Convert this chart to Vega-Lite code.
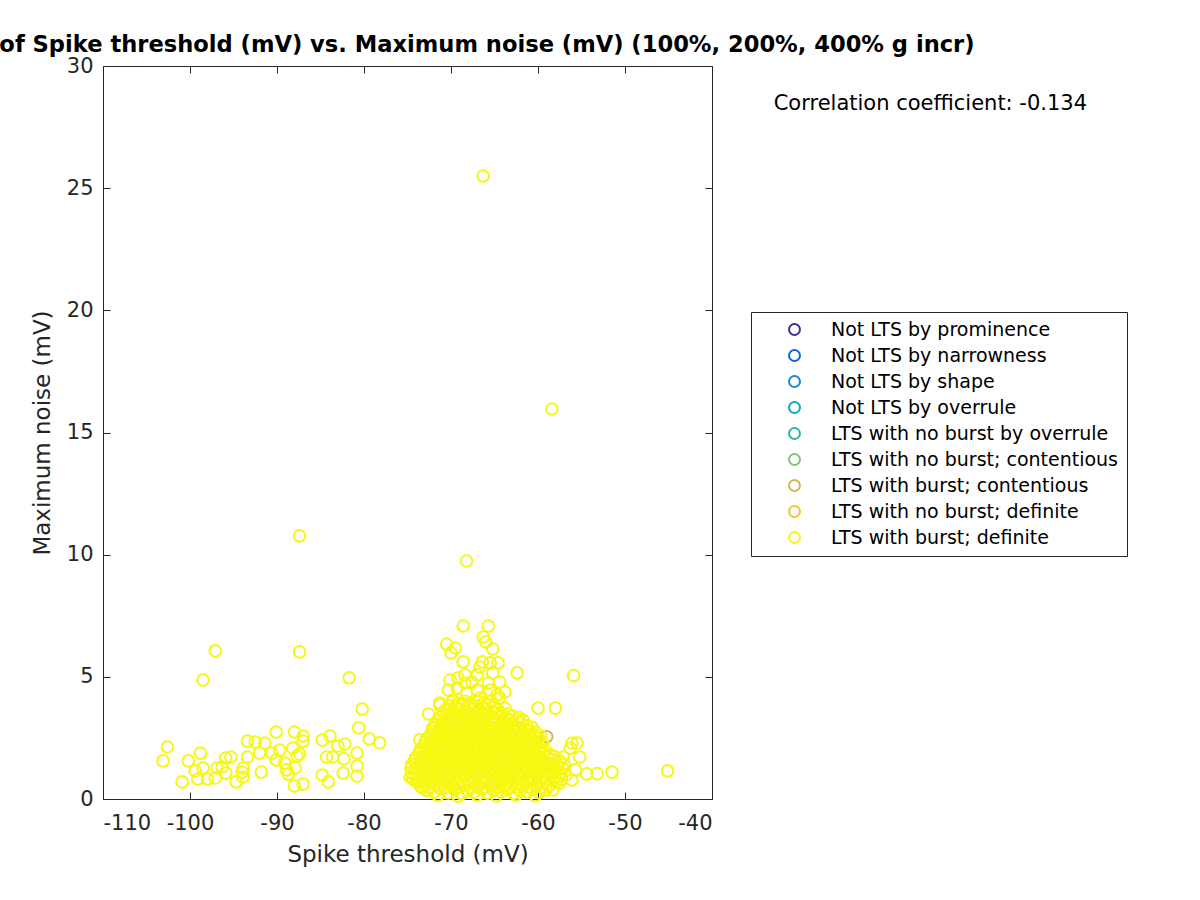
{
  "$schema": "https://vega.github.io/schema/vega-lite/v6.json",
  "width": 609,
  "height": 733,
  "autosize": "none",
  "padding": {"left": 103, "top": 66, "right": 488, "bottom": 101},
  "background": "white",
  "config": {
    "view": {"stroke": "#262626", "strokeWidth": 1},
    "font": "DejaVu Sans",
    "axis": {"grid": false, "domain": false, "tickColor": "#262626", "tickSize": -7, "tickWidth": 1, "labelColor": "#262626", "titleColor": "#262626", "labelFont": "DejaVu Sans", "titleFont": "DejaVu Sans", "labelFontSize": 21, "titleFontSize": 23, "titleFontWeight": "normal"}
  },
  "title": {"text": "Scatter plot of Spike threshold (mV) vs. Maximum noise (mV) (100%, 200%, 400% g incr)", "anchor": "middle", "fontSize": 22.6, "fontWeight": "bold", "font": "DejaVu Sans", "color": "#000000", "offset": -2},
  "datasets": {
    "contentious": [{"x": -59.0, "y": 2.55}],
    "definite": [
      {"x": -66.3, "y": 25.5}, {"x": -58.4, "y": 15.96}, {"x": -87.4, "y": 10.77}, {"x": -68.2, "y": 9.74},
      {"x": -97.1, "y": 6.06}, {"x": -87.4, "y": 6.02}, {"x": -98.5, "y": 4.87}, {"x": -81.7, "y": 4.96}, {"x": -55.9, "y": 5.05},
      {"x": -45.1, "y": 1.15}, {"x": -51.5, "y": 1.1}, {"x": -53.2, "y": 1.04}, {"x": -54.4, "y": 1.03},
      {"x": -80.2, "y": 3.68}, {"x": -80.6, "y": 2.91}, {"x": -79.4, "y": 2.46}, {"x": -78.2, "y": 2.3},
      {"x": -102.6, "y": 2.13}, {"x": -103.1, "y": 1.56}, {"x": -100.2, "y": 1.56}, {"x": -98.8, "y": 1.88},
      {"x": -100.9, "y": 0.7}, {"x": -99.4, "y": 1.15}, {"x": -98.5, "y": 1.27}, {"x": -99.1, "y": 0.82},
      {"x": -98.0, "y": 0.82}, {"x": -97.1, "y": 0.86}, {"x": -96.9, "y": 1.27}, {"x": -96.3, "y": 1.31},
      {"x": -95.9, "y": 1.68}, {"x": -95.3, "y": 1.72}, {"x": -94.7, "y": 0.7}, {"x": -95.9, "y": 1.06},
      {"x": -94.0, "y": 1.1}, {"x": -93.9, "y": 1.27}, {"x": -93.9, "y": 0.9}, {"x": -93.4, "y": 1.72},
      {"x": -93.4, "y": 2.37}, {"x": -92.5, "y": 2.33}, {"x": -91.4, "y": 2.29}, {"x": -91.8, "y": 1.1},
      {"x": -92.0, "y": 1.88}, {"x": -90.6, "y": 1.88}, {"x": -90.1, "y": 2.74}, {"x": -90.1, "y": 1.6},
      {"x": -89.7, "y": 2.0}, {"x": -89.1, "y": 1.47}, {"x": -88.9, "y": 1.19}, {"x": -88.7, "y": 1.02},
      {"x": -88.0, "y": 2.74}, {"x": -88.2, "y": 2.08}, {"x": -87.7, "y": 1.76}, {"x": -87.4, "y": 1.84},
      {"x": -87.0, "y": 2.58}, {"x": -87.0, "y": 2.37}, {"x": -87.9, "y": 1.27}, {"x": -88.0, "y": 0.53},
      {"x": -87.0, "y": 0.61}, {"x": -84.8, "y": 2.41}, {"x": -83.9, "y": 2.58}, {"x": -84.3, "y": 1.72},
      {"x": -83.6, "y": 1.72}, {"x": -83.0, "y": 2.17}, {"x": -82.2, "y": 2.25}, {"x": -82.3, "y": 1.64},
      {"x": -84.8, "y": 0.98}, {"x": -84.1, "y": 0.7}, {"x": -82.4, "y": 1.06}, {"x": -80.8, "y": 1.88},
      {"x": -80.8, "y": 1.35}, {"x": -80.8, "y": 0.94},
      {"x": -68.6, "y": 7.08}, {"x": -65.7, "y": 7.08}, {"x": -70.5, "y": 6.34}, {"x": -69.5, "y": 6.18},
      {"x": -70.0, "y": 5.98}, {"x": -66.3, "y": 6.63}, {"x": -66.0, "y": 6.43}, {"x": -65.2, "y": 6.14},
      {"x": -68.6, "y": 5.61}, {"x": -66.4, "y": 5.61}, {"x": -66.7, "y": 5.4}, {"x": -64.6, "y": 5.57},
      {"x": -65.5, "y": 5.57}, {"x": -62.4, "y": 5.16}, {"x": -68.4, "y": 5.08}, {"x": -67.0, "y": 5.08},
      {"x": -65.2, "y": 5.16}, {"x": -70.1, "y": 4.87}, {"x": -69.2, "y": 4.95}, {"x": -65.7, "y": 4.75},
      {"x": -64.4, "y": 4.79}, {"x": -68.4, "y": 4.75}, {"x": -67.6, "y": 4.79}, {"x": -63.8, "y": 4.38},
      {"x": -70.3, "y": 4.46}, {"x": -69.3, "y": 4.54}, {"x": -68.2, "y": 4.34}, {"x": -67.0, "y": 4.46},
      {"x": -65.5, "y": 4.46}, {"x": -64.7, "y": 4.26}, {"x": -71.3, "y": 3.93}, {"x": -69.8, "y": 4.05},
      {"x": -66.7, "y": 4.13}, {"x": -64.4, "y": 4.13}, {"x": -60.0, "y": 3.72}, {"x": -58.0, "y": 3.72},
      {"x": -56.1, "y": 2.29}, {"x": -55.5, "y": 2.29}, {"x": -56.3, "y": 2.08}, {"x": -55.2, "y": 1.72},
      {"x": -57.1, "y": 1.72}, {"x": -55.7, "y": 1.19}, {"x": -56.1, "y": 0.78}, {"x": -57.5, "y": 0.65},
      {"x": -58.3, "y": 0.37}, {"x": -72.6, "y": 3.48}, {"x": -71.3, "y": 3.85}, {"x": -72.1, "y": 2.91},
      {"x": -73.6, "y": 2.42}, {"x": -74.1, "y": 1.68}, {"x": -74.5, "y": 1.1}, {"x": -74.7, "y": 0.9},
      {"x": -73.8, "y": 0.7}, {"x": -73.2, "y": 0.45},
      {"x": -71.5, "y": 0.15}, {"x": -69.2, "y": 0.12}, {"x": -67.0, "y": 0.16}, {"x": -64.8, "y": 0.13}, {"x": -62.5, "y": 0.17}, {"x": -60.3, "y": 0.14},
      {"x": -72.8, "y": 0.35}, {"x": -71.9, "y": 0.28}, {"x": -71.2, "y": 0.42}, {"x": -70.3, "y": 0.25}, {"x": -69.6, "y": 0.38}, {"x": -68.8, "y": 0.22}, {"x": -68.1, "y": 0.33}, {"x": -67.3, "y": 0.27}, {"x": -66.5, "y": 0.4}, {"x": -65.8, "y": 0.24}, {"x": -65.1, "y": 0.36}, {"x": -64.2, "y": 0.29}, {"x": -63.5, "y": 0.41}, {"x": -62.8, "y": 0.23}, {"x": -62.1, "y": 0.34}, {"x": -61.3, "y": 0.3}, {"x": -60.6, "y": 0.39}, {"x": -59.9, "y": 0.26}, {"x": -59.1, "y": 0.37},
      {"x": -73.5, "y": 0.5}, {"x": -72.5, "y": 0.47}, {"x": -71.6, "y": 0.53}, {"x": -70.7, "y": 0.46}, {"x": -69.9, "y": 0.52}, {"x": -69.1, "y": 0.48}, {"x": -68.4, "y": 0.55}, {"x": -67.6, "y": 0.45}, {"x": -66.9, "y": 0.51}, {"x": -66.1, "y": 0.49}, {"x": -65.4, "y": 0.54}, {"x": -64.6, "y": 0.47}, {"x": -63.8, "y": 0.52}, {"x": -63.2, "y": 0.46}, {"x": -62.4, "y": 0.5}, {"x": -61.7, "y": 0.53}, {"x": -61.0, "y": 0.48}, {"x": -60.2, "y": 0.51}, {"x": -59.5, "y": 0.47}, {"x": -58.8, "y": 0.52},
      {"x": -74.0, "y": 0.72}, {"x": -73.1, "y": 0.61}, {"x": -72.4, "y": 0.68}, {"x": -71.6, "y": 0.58}, {"x": -70.8, "y": 0.7}, {"x": -70.1, "y": 0.63}, {"x": -69.3, "y": 0.66}, {"x": -68.5, "y": 0.57}, {"x": -67.7, "y": 0.69}, {"x": -67.0, "y": 0.62}, {"x": -66.2, "y": 0.74}, {"x": -65.4, "y": 0.6}, {"x": -64.7, "y": 0.67}, {"x": -63.9, "y": 0.55}, {"x": -63.1, "y": 0.71}, {"x": -62.4, "y": 0.64}, {"x": -61.7, "y": 0.59}, {"x": -60.9, "y": 0.73}, {"x": -60.2, "y": 0.62}, {"x": -59.4, "y": 0.68}, {"x": -58.7, "y": 0.56}, {"x": -57.9, "y": 0.7},
      {"x": -74.4, "y": 0.82}, {"x": -73.6, "y": 0.78}, {"x": -72.8, "y": 0.84}, {"x": -72.1, "y": 0.77}, {"x": -71.3, "y": 0.81}, {"x": -70.5, "y": 0.79}, {"x": -69.7, "y": 0.85}, {"x": -69.0, "y": 0.76}, {"x": -68.2, "y": 0.83}, {"x": -67.4, "y": 0.8}, {"x": -66.7, "y": 0.78}, {"x": -65.9, "y": 0.84}, {"x": -65.1, "y": 0.79}, {"x": -64.3, "y": 0.82}, {"x": -63.5, "y": 0.77}, {"x": -62.8, "y": 0.85}, {"x": -62.0, "y": 0.8}, {"x": -61.3, "y": 0.78}, {"x": -60.5, "y": 0.83}, {"x": -59.8, "y": 0.79}, {"x": -59.0, "y": 0.81}, {"x": -58.2, "y": 0.84}, {"x": -57.3, "y": 0.8},
      {"x": -74.3, "y": 0.98}, {"x": -73.5, "y": 0.91}, {"x": -72.7, "y": 1.02}, {"x": -72.0, "y": 0.93}, {"x": -71.3, "y": 0.97}, {"x": -70.5, "y": 0.89}, {"x": -69.8, "y": 1.01}, {"x": -69.0, "y": 0.94}, {"x": -68.3, "y": 0.99}, {"x": -67.5, "y": 0.9}, {"x": -66.8, "y": 1.03}, {"x": -66.0, "y": 0.92}, {"x": -65.2, "y": 0.96}, {"x": -64.5, "y": 1.0}, {"x": -63.7, "y": 0.88}, {"x": -63.0, "y": 0.97}, {"x": -62.2, "y": 0.93}, {"x": -61.5, "y": 1.04}, {"x": -60.7, "y": 0.9}, {"x": -60.0, "y": 0.99}, {"x": -59.3, "y": 0.94}, {"x": -58.5, "y": 1.01}, {"x": -57.6, "y": 0.92}, {"x": -56.8, "y": 0.97},
      {"x": -74.0, "y": 1.12}, {"x": -73.2, "y": 1.08}, {"x": -72.4, "y": 1.14}, {"x": -71.7, "y": 1.07}, {"x": -70.9, "y": 1.11}, {"x": -70.2, "y": 1.09}, {"x": -69.4, "y": 1.15}, {"x": -68.7, "y": 1.06}, {"x": -67.9, "y": 1.13}, {"x": -67.2, "y": 1.1}, {"x": -66.4, "y": 1.08}, {"x": -65.7, "y": 1.14}, {"x": -64.9, "y": 1.09}, {"x": -64.2, "y": 1.12}, {"x": -63.4, "y": 1.07}, {"x": -62.7, "y": 1.15}, {"x": -61.9, "y": 1.1}, {"x": -61.2, "y": 1.08}, {"x": -60.4, "y": 1.13}, {"x": -59.7, "y": 1.09}, {"x": -58.9, "y": 1.11}, {"x": -58.2, "y": 1.14}, {"x": -57.4, "y": 1.08},
      {"x": -74.6, "y": 1.27}, {"x": -73.8, "y": 1.22}, {"x": -73.0, "y": 1.31}, {"x": -72.3, "y": 1.2}, {"x": -71.5, "y": 1.28}, {"x": -70.8, "y": 1.24}, {"x": -70.0, "y": 1.33}, {"x": -69.2, "y": 1.19}, {"x": -68.5, "y": 1.26}, {"x": -67.8, "y": 1.3}, {"x": -67.0, "y": 1.21}, {"x": -66.3, "y": 1.29}, {"x": -65.5, "y": 1.23}, {"x": -64.8, "y": 1.32}, {"x": -64.0, "y": 1.18}, {"x": -63.2, "y": 1.27}, {"x": -62.5, "y": 1.25}, {"x": -61.8, "y": 1.3}, {"x": -61.0, "y": 1.2}, {"x": -60.3, "y": 1.28}, {"x": -59.5, "y": 1.22}, {"x": -58.8, "y": 1.31}, {"x": -58.0, "y": 1.24}, {"x": -57.2, "y": 1.27},
      {"x": -74.5, "y": 1.42}, {"x": -73.7, "y": 1.38}, {"x": -72.9, "y": 1.44}, {"x": -72.1, "y": 1.37}, {"x": -71.4, "y": 1.41}, {"x": -70.6, "y": 1.39}, {"x": -69.9, "y": 1.45}, {"x": -69.1, "y": 1.36}, {"x": -68.3, "y": 1.43}, {"x": -67.6, "y": 1.4}, {"x": -66.9, "y": 1.38}, {"x": -66.1, "y": 1.44}, {"x": -65.3, "y": 1.39}, {"x": -64.6, "y": 1.42}, {"x": -63.8, "y": 1.37}, {"x": -63.1, "y": 1.45}, {"x": -62.3, "y": 1.4}, {"x": -61.6, "y": 1.38}, {"x": -60.8, "y": 1.43}, {"x": -60.1, "y": 1.39}, {"x": -59.3, "y": 1.41}, {"x": -58.6, "y": 1.44}, {"x": -57.8, "y": 1.38}, {"x": -57.0, "y": 1.42},
      {"x": -74.2, "y": 1.57}, {"x": -73.4, "y": 1.52}, {"x": -72.6, "y": 1.6}, {"x": -71.9, "y": 1.5}, {"x": -71.1, "y": 1.58}, {"x": -70.3, "y": 1.54}, {"x": -69.6, "y": 1.62}, {"x": -68.8, "y": 1.49}, {"x": -68.1, "y": 1.56}, {"x": -67.3, "y": 1.61}, {"x": -66.6, "y": 1.51}, {"x": -65.8, "y": 1.59}, {"x": -65.1, "y": 1.53}, {"x": -64.3, "y": 1.63}, {"x": -63.6, "y": 1.5}, {"x": -62.8, "y": 1.57}, {"x": -62.1, "y": 1.55}, {"x": -61.3, "y": 1.6}, {"x": -60.6, "y": 1.52}, {"x": -59.8, "y": 1.58}, {"x": -59.1, "y": 1.51}, {"x": -58.3, "y": 1.6}, {"x": -57.5, "y": 1.54},
      {"x": -74.0, "y": 1.72}, {"x": -73.2, "y": 1.68}, {"x": -72.4, "y": 1.74}, {"x": -71.7, "y": 1.67}, {"x": -70.9, "y": 1.71}, {"x": -70.1, "y": 1.69}, {"x": -69.4, "y": 1.75}, {"x": -68.6, "y": 1.66}, {"x": -67.9, "y": 1.73}, {"x": -67.1, "y": 1.7}, {"x": -66.4, "y": 1.68}, {"x": -65.6, "y": 1.74}, {"x": -64.9, "y": 1.69}, {"x": -64.1, "y": 1.72}, {"x": -63.4, "y": 1.67}, {"x": -62.6, "y": 1.75}, {"x": -61.9, "y": 1.7}, {"x": -61.1, "y": 1.68}, {"x": -60.4, "y": 1.73}, {"x": -59.6, "y": 1.69}, {"x": -58.9, "y": 1.71}, {"x": -58.1, "y": 1.74},
      {"x": -73.7, "y": 1.87}, {"x": -72.9, "y": 1.82}, {"x": -72.2, "y": 1.9}, {"x": -71.4, "y": 1.8}, {"x": -70.7, "y": 1.88}, {"x": -69.9, "y": 1.84}, {"x": -69.1, "y": 1.92}, {"x": -68.4, "y": 1.79}, {"x": -67.7, "y": 1.86}, {"x": -66.9, "y": 1.91}, {"x": -66.1, "y": 1.81}, {"x": -65.4, "y": 1.89}, {"x": -64.6, "y": 1.83}, {"x": -63.9, "y": 1.93}, {"x": -63.1, "y": 1.8}, {"x": -62.4, "y": 1.87}, {"x": -61.6, "y": 1.85}, {"x": -60.9, "y": 1.9}, {"x": -60.1, "y": 1.82}, {"x": -59.4, "y": 1.88}, {"x": -58.6, "y": 1.81},
      {"x": -73.5, "y": 2.02}, {"x": -72.7, "y": 1.98}, {"x": -71.9, "y": 2.04}, {"x": -71.2, "y": 1.97}, {"x": -70.4, "y": 2.01}, {"x": -69.7, "y": 1.99}, {"x": -68.9, "y": 2.05}, {"x": -68.2, "y": 1.96}, {"x": -67.4, "y": 2.03}, {"x": -66.7, "y": 2.0}, {"x": -65.9, "y": 1.98}, {"x": -65.2, "y": 2.04}, {"x": -64.4, "y": 1.99}, {"x": -63.7, "y": 2.02}, {"x": -62.9, "y": 1.97}, {"x": -62.2, "y": 2.05}, {"x": -61.4, "y": 2.0}, {"x": -60.7, "y": 1.98}, {"x": -59.9, "y": 2.03}, {"x": -59.2, "y": 1.99},
      {"x": -73.2, "y": 2.17}, {"x": -72.4, "y": 2.12}, {"x": -71.7, "y": 2.2}, {"x": -70.9, "y": 2.1}, {"x": -70.2, "y": 2.18}, {"x": -69.4, "y": 2.14}, {"x": -68.7, "y": 2.22}, {"x": -67.9, "y": 2.09}, {"x": -67.2, "y": 2.16}, {"x": -66.4, "y": 2.21}, {"x": -65.7, "y": 2.11}, {"x": -64.9, "y": 2.19}, {"x": -64.2, "y": 2.13}, {"x": -63.4, "y": 2.23}, {"x": -62.7, "y": 2.1}, {"x": -61.9, "y": 2.17}, {"x": -61.2, "y": 2.15}, {"x": -60.4, "y": 2.2}, {"x": -59.7, "y": 2.12},
      {"x": -73.0, "y": 2.32}, {"x": -72.2, "y": 2.28}, {"x": -71.4, "y": 2.34}, {"x": -70.7, "y": 2.27}, {"x": -69.9, "y": 2.31}, {"x": -69.2, "y": 2.29}, {"x": -68.4, "y": 2.35}, {"x": -67.7, "y": 2.26}, {"x": -66.9, "y": 2.33}, {"x": -66.2, "y": 2.3}, {"x": -65.4, "y": 2.28}, {"x": -64.7, "y": 2.34}, {"x": -63.9, "y": 2.29}, {"x": -63.2, "y": 2.32}, {"x": -62.4, "y": 2.27}, {"x": -61.7, "y": 2.35}, {"x": -60.9, "y": 2.3}, {"x": -60.2, "y": 2.28}, {"x": -59.5, "y": 2.33},
      {"x": -72.8, "y": 2.47}, {"x": -72.0, "y": 2.42}, {"x": -71.2, "y": 2.5}, {"x": -70.5, "y": 2.4}, {"x": -69.7, "y": 2.48}, {"x": -69.0, "y": 2.44}, {"x": -68.2, "y": 2.52}, {"x": -67.5, "y": 2.39}, {"x": -66.7, "y": 2.46}, {"x": -66.0, "y": 2.51}, {"x": -65.2, "y": 2.41}, {"x": -64.5, "y": 2.49}, {"x": -63.7, "y": 2.43}, {"x": -63.0, "y": 2.53}, {"x": -62.2, "y": 2.4}, {"x": -61.5, "y": 2.47}, {"x": -60.7, "y": 2.45}, {"x": -60.0, "y": 2.5},
      {"x": -72.4, "y": 2.62}, {"x": -71.7, "y": 2.58}, {"x": -70.9, "y": 2.64}, {"x": -70.2, "y": 2.57}, {"x": -69.4, "y": 2.61}, {"x": -68.7, "y": 2.59}, {"x": -67.9, "y": 2.65}, {"x": -67.2, "y": 2.56}, {"x": -66.4, "y": 2.63}, {"x": -65.7, "y": 2.6}, {"x": -64.9, "y": 2.58}, {"x": -64.2, "y": 2.64}, {"x": -63.4, "y": 2.59}, {"x": -62.7, "y": 2.62}, {"x": -61.9, "y": 2.57}, {"x": -61.2, "y": 2.65}, {"x": -60.5, "y": 2.6}, {"x": -59.7, "y": 2.58},
      {"x": -72.2, "y": 2.77}, {"x": -71.5, "y": 2.72}, {"x": -70.7, "y": 2.8}, {"x": -70.0, "y": 2.7}, {"x": -69.3, "y": 2.78}, {"x": -68.5, "y": 2.74}, {"x": -67.8, "y": 2.82}, {"x": -67.0, "y": 2.69}, {"x": -66.3, "y": 2.76}, {"x": -65.5, "y": 2.81}, {"x": -64.8, "y": 2.71}, {"x": -64.0, "y": 2.79}, {"x": -63.3, "y": 2.73}, {"x": -62.5, "y": 2.83}, {"x": -61.8, "y": 2.7}, {"x": -61.0, "y": 2.77}, {"x": -60.3, "y": 2.74},
      {"x": -71.9, "y": 2.92}, {"x": -71.2, "y": 2.88}, {"x": -70.4, "y": 2.94}, {"x": -69.7, "y": 2.87}, {"x": -68.9, "y": 2.91}, {"x": -68.2, "y": 2.89}, {"x": -67.4, "y": 2.95}, {"x": -66.7, "y": 2.86}, {"x": -65.9, "y": 2.93}, {"x": -65.2, "y": 2.9}, {"x": -64.4, "y": 2.88}, {"x": -63.7, "y": 2.94}, {"x": -62.9, "y": 2.89}, {"x": -62.2, "y": 2.92}, {"x": -61.4, "y": 2.87}, {"x": -60.7, "y": 2.93},
      {"x": -71.8, "y": 3.07}, {"x": -71.0, "y": 3.02}, {"x": -70.3, "y": 3.1}, {"x": -69.5, "y": 3.0}, {"x": -68.8, "y": 3.08}, {"x": -68.0, "y": 3.04}, {"x": -67.3, "y": 3.12}, {"x": -66.5, "y": 2.99}, {"x": -65.8, "y": 3.06}, {"x": -65.0, "y": 3.11}, {"x": -64.3, "y": 3.01}, {"x": -63.5, "y": 3.09}, {"x": -62.8, "y": 3.03}, {"x": -62.0, "y": 3.13}, {"x": -61.3, "y": 3.0},
      {"x": -71.4, "y": 3.22}, {"x": -70.7, "y": 3.18}, {"x": -69.9, "y": 3.24}, {"x": -69.2, "y": 3.17}, {"x": -68.4, "y": 3.21}, {"x": -67.7, "y": 3.19}, {"x": -66.9, "y": 3.25}, {"x": -66.2, "y": 3.16}, {"x": -65.4, "y": 3.23}, {"x": -64.7, "y": 3.2}, {"x": -63.9, "y": 3.18}, {"x": -63.2, "y": 3.24}, {"x": -62.4, "y": 3.19}, {"x": -61.7, "y": 3.22},
      {"x": -71.2, "y": 3.37}, {"x": -70.4, "y": 3.32}, {"x": -69.7, "y": 3.4}, {"x": -68.9, "y": 3.3}, {"x": -68.2, "y": 3.38}, {"x": -67.4, "y": 3.34}, {"x": -66.7, "y": 3.42}, {"x": -65.9, "y": 3.29}, {"x": -65.2, "y": 3.36}, {"x": -64.4, "y": 3.41}, {"x": -63.7, "y": 3.31}, {"x": -62.9, "y": 3.39}, {"x": -62.2, "y": 3.33},
      {"x": -70.9, "y": 3.52}, {"x": -70.1, "y": 3.48}, {"x": -69.4, "y": 3.54}, {"x": -68.6, "y": 3.47}, {"x": -67.9, "y": 3.51}, {"x": -67.1, "y": 3.49}, {"x": -66.4, "y": 3.55}, {"x": -65.6, "y": 3.46}, {"x": -64.9, "y": 3.53}, {"x": -64.1, "y": 3.5}, {"x": -63.4, "y": 3.48},
      {"x": -70.6, "y": 3.67}, {"x": -69.8, "y": 3.62}, {"x": -69.1, "y": 3.7}, {"x": -68.3, "y": 3.6}, {"x": -67.6, "y": 3.68}, {"x": -66.8, "y": 3.64}, {"x": -66.1, "y": 3.72}, {"x": -65.3, "y": 3.59}, {"x": -64.6, "y": 3.66}, {"x": -63.8, "y": 3.71},
      {"x": -70.2, "y": 3.82}, {"x": -69.5, "y": 3.78}, {"x": -68.7, "y": 3.84}, {"x": -68.0, "y": 3.77}, {"x": -67.2, "y": 3.81}, {"x": -66.5, "y": 3.79}, {"x": -65.7, "y": 3.85}, {"x": -65.0, "y": 3.76},
      {"x": -69.9, "y": 3.97}, {"x": -69.2, "y": 3.92}, {"x": -68.4, "y": 4.0}, {"x": -67.7, "y": 3.9}, {"x": -66.9, "y": 3.98}, {"x": -66.2, "y": 3.94}, {"x": -65.4, "y": 4.02}
    ]
  },
  "resolve": {"axis": {"x": "independent", "y": "independent"}},
  "layer": [
    {
      "data": {"name": "contentious"},
      "mark": {"type": "point", "shape": "circle", "filled": false, "size": 135, "strokeWidth": 2, "opacity": 1},
      "encoding": {
        "x": {"field": "x", "type": "quantitative", "scale": {"domain": [-110, -40], "nice": false, "zero": false},
          "axis": {"orient": "bottom", "values": [-110, -100, -90, -80, -70, -60, -50, -40], "labelPadding": 20, "titlePadding": 10, "labelExpr": "replace(datum.label, '\u2212', '-')"},
          "title": "Spike threshold (mV)"},
        "y": {"field": "y", "type": "quantitative", "scale": {"domain": [0, 30], "nice": false, "zero": false},
          "axis": {"orient": "left", "values": [0, 5, 10, 15, 20, 25, 30], "labelPadding": 17, "titlePadding": 12},
          "title": "Maximum noise (mV)"},
        "color": {"datum": "LTS with burst; contentious", "type": "nominal",
          "scale": {"domain": ["Not LTS by prominence", "Not LTS by narrowness", "Not LTS by shape", "Not LTS by overrule", "LTS with no burst by overrule", "LTS with no burst; contentious", "LTS with burst; contentious", "LTS with no burst; definite", "LTS with burst; definite"],
            "range": ["#3e2d91", "#1162e2", "#1a87da", "#0aa7c8", "#2db79e", "#85c177", "#d2b852", "#fcc12c", "#f7f713"]},
          "legend": {"title": null, "orient": "none", "legendX": 648, "legendY": 246, "strokeColor": "#262626", "fillColor": "white", "padding": 8, "symbolType": "circle", "symbolSize": 120, "symbolStrokeWidth": 2, "symbolFillColor": "transparent", "symbolOffset": 26, "labelOffset": 27, "labelFontSize": 19, "labelColor": "#000000", "labelFont": "DejaVu Sans", "rowPadding": 6, "labelLimit": 400}}
      }
    },
    {
      "data": {"name": "definite"},
      "mark": {"type": "point", "shape": "circle", "filled": false, "size": 135, "strokeWidth": 2, "opacity": 1},
      "encoding": {
        "x": {"field": "x", "type": "quantitative", "axis": null},
        "y": {"field": "y", "type": "quantitative", "axis": null},
        "color": {"datum": "LTS with burst; definite", "type": "nominal"}
      }
    },
    {
      "data": {"name": "contentious"},
      "mark": {"type": "point", "opacity": 0},
      "encoding": {
        "x": {"field": "x", "type": "quantitative", "axis": {"orient": "top", "values": [-110, -100, -90, -80, -70, -60, -50, -40], "labels": false, "title": null}},
        "y": {"field": "y", "type": "quantitative", "axis": {"orient": "right", "values": [0, 5, 10, 15, 20, 25, 30], "labels": false, "title": null}}
      }
    },
    {
      "data": {"name": "contentious"},
      "mark": {"type": "text", "text": "Correlation coefficient: -0.134", "fontSize": 21, "font": "DejaVu Sans", "color": "#000000", "align": "center", "baseline": "middle"},
      "encoding": {
        "x": {"datum": -14.9, "type": "quantitative", "axis": null},
        "y": {"datum": 28.45, "type": "quantitative", "axis": null}
      }
    }
  ]
}
